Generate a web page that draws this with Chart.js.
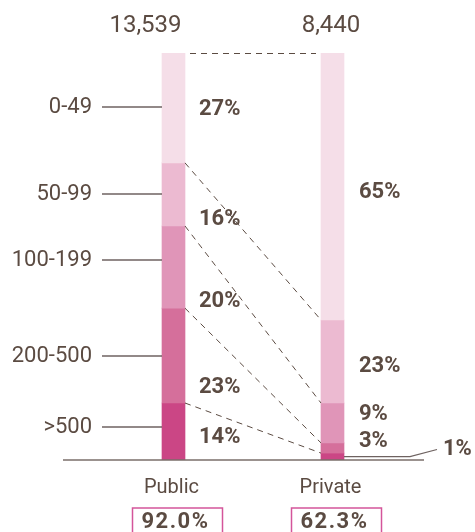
<!DOCTYPE html>
<html>
<head>
<meta charset="utf-8">
<script src="https://cdn.jsdelivr.net/npm/chart.js@4"></script>
<style>
  body { margin: 0; background: #fff; }
  canvas { display: block; }
</style>
</head>
<body>
<canvas id="sizeChart" width="475" height="532"></canvas>
<script>
// share of students by school size, public vs private
const sizeClasses = ['0-49', '50-99', '100-199', '200-500', '>500'];
const sectors = ['Public', 'Private'];
const sectorTotals = ['13,539', '8,440'];
const publicShare = [27, 15.5, 20.2, 23.3, 14];
const privateShare = [65.6, 20.4, 9.8, 2.5, 1.7];
const publicLabels = ['27%', '16%', '20%', '23%', '14%'];
const privateLabels = ['65%', '23%', '9%', '3%', '1%'];
const sectorRates = ['92.0%', '62.3%'];
const classColors = ['#f5dee8', '#ecbad1', '#e095b8', '#d56f9b', '#cb4685'];

const textColor = '#5b4b42';
const lineColor = '#6e6260';
const font = 'Roboto, "Liberation Sans", sans-serif';

const cum = arr => arr.reduce((acc, v) => { acc.push(acc[acc.length - 1] + v); return acc; }, [0]);

const overlay = {
  id: 'overlay',
  afterDatasetsDraw(chart) {
    const ctx = chart.ctx;
    const y = chart.scales.y;
    const meta = chart.getDatasetMeta(0);
    const pub = meta.data[0], pri = meta.data[1];
    const pubL = pub.x - pub.width / 2, pubR = pub.x + pub.width / 2;
    const priL = pri.x - pri.width / 2, priR = pri.x + pri.width / 2;
    const cPub = cum(publicShare), cPri = cum(privateShare);
    const bottom = y.getPixelForValue(100);

    ctx.save();
    // dashed connectors between segment boundaries
    ctx.strokeStyle = '#5b4b42';
    ctx.lineWidth = 1;
    ctx.setLineDash([6, 5]);
    for (let k = 0; k < sizeClasses.length; k++) {
      const y1 = y.getPixelForValue(cPub[k]);
      const y2 = y.getPixelForValue(cPri[k]);
      ctx.beginPath();
      if (k === 0) {
        ctx.moveTo(pubR + 5, y1 + 0.5);
        ctx.lineTo(priL - 5, y2 + 0.5);
      } else {
        ctx.moveTo(pubR, y1);
        ctx.lineTo(priL, y2);
      }
      ctx.stroke();
    }
    ctx.setLineDash([]);

    // baseline
    ctx.strokeStyle = '#7a6e6a';
    ctx.lineWidth = 1.5;
    ctx.beginPath();
    ctx.moveTo(63, bottom);
    ctx.lineTo(424, bottom);
    ctx.stroke();

    // size class labels with leader ticks
    const tickDy = [-1, 0, -7, 0, -5];
    ctx.font = '22px ' + font;
    ctx.fillStyle = textColor;
    ctx.textAlign = 'right';
    ctx.textBaseline = 'middle';
    ctx.strokeStyle = lineColor;
    ctx.lineWidth = 1.5;
    sizeClasses.forEach((c, i) => {
      const yy = Math.round((y.getPixelForValue(cPub[i]) + y.getPixelForValue(cPub[i + 1])) / 2 + tickDy[i]);
      ctx.fillText(c, 92, yy);
      ctx.beginPath();
      ctx.moveTo(102, yy);
      ctx.lineTo(pubL, yy);
      ctx.stroke();
    });

    // percentage labels
    const pubDy = [2, 25, 34, 32, 6];
    const priDy = [6, 5, -8, -6];
    ctx.font = 'bold 22px ' + font;
    ctx.textAlign = 'left';
    publicLabels.forEach((t, i) => {
      const yy = (y.getPixelForValue(cPub[i]) + y.getPixelForValue(cPub[i + 1])) / 2 + pubDy[i];
      ctx.fillText(t, pubR + 14, yy);
    });
    privateLabels.slice(0, 4).forEach((t, i) => {
      const yy = (y.getPixelForValue(cPri[i]) + y.getPixelForValue(cPri[i + 1])) / 2 + priDy[i];
      ctx.fillText(t, priR + 15, yy);
    });
    // smallest segment gets a leader line
    const last = privateLabels.length - 1;
    const ly = (y.getPixelForValue(cPri[last]) + y.getPixelForValue(cPri[last + 1])) / 2;
    ctx.strokeStyle = lineColor;
    ctx.lineWidth = 1.2;
    ctx.beginPath();
    ctx.moveTo(priR, ly);
    ctx.lineTo(410, ly);
    ctx.lineTo(437, ly - 7);
    ctx.stroke();
    ctx.fillText(privateLabels[last], 443, ly - 7);

    // totals on top
    ctx.font = '24px ' + font;
    ctx.textAlign = 'center';
    ctx.fillText(sectorTotals[0], pub.x - 28, 26);
    ctx.fillText(sectorTotals[1], pri.x - 1.5, 26);

    // sector names and rate boxes
    [pub, pri].forEach((bar, i) => {
      ctx.font = '20px ' + font;
      ctx.fillStyle = textColor;
      ctx.textAlign = 'center';
      ctx.fillText(sectors[i], bar.x - 2, 488);

      ctx.strokeStyle = '#d4559a';
      ctx.lineWidth = 1.5;
      ctx.strokeRect(bar.x - 41, 508, 90, 40);

      ctx.font = 'bold 22px ' + font;
      ctx.letterSpacing = '1.5px';
      ctx.fillText(sectorRates[i], bar.x + 2, 522);
      ctx.letterSpacing = '0px';
    });
    ctx.restore();
  }
};

new Chart(document.getElementById('sizeChart'), {
  type: 'bar',
  data: {
    labels: sectors,
    datasets: sizeClasses.map((c, i) => ({
      label: c,
      data: [publicShare[i], privateShare[i]],
      backgroundColor: classColors[i],
      borderWidth: 0,
      barThickness: 23,
      stack: 'share'
    }))
  },
  options: {
    responsive: false,
    animation: false,
    layout: { padding: { left: 94, right: 63, top: 53, bottom: 72 } },
    plugins: { legend: { display: false }, tooltip: { enabled: false } },
    scales: {
      x: { stacked: true, display: false },
      y: { stacked: true, display: false, reverse: true, min: 0, max: 100 }
    }
  },
  plugins: [overlay]
});
</script>
</body>
</html>
